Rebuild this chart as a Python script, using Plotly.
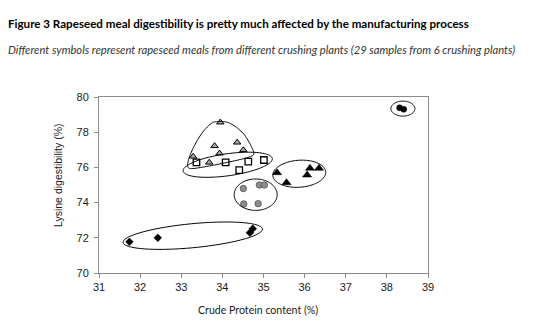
import numpy as np
import plotly.graph_objects as go

# Crude protein (%) vs lysine digestibility (%) per crushing plant
plant_a_cp = [31.74, 32.43, 34.67, 34.74]
plant_a_lys = [71.77, 72.00, 72.29, 72.52]

plant_b_cp = [34.51, 34.90, 35.02, 34.52, 34.87]
plant_b_lys = [74.80, 75.00, 75.00, 73.92, 73.94]

plant_c_cp = [35.33, 35.56, 36.06, 36.13, 36.35]
plant_c_lys = [75.70, 75.13, 75.57, 75.95, 75.95]

plant_d_cp = [33.37, 34.08, 34.41, 34.63, 35.01]
plant_d_lys = [76.29, 76.29, 75.85, 76.33, 76.42]

plant_e_cp = [33.95, 33.81, 34.36, 33.93, 34.51, 33.29, 33.68]
plant_e_lys = [78.56, 77.22, 77.42, 76.80, 76.99, 76.62, 76.28]

plant_f_cp = [38.31, 38.41]
plant_f_lys = [79.39, 79.30]

x_ticks = [31, 32, 33, 34, 35, 36, 37, 38, 39]
y_ticks = [70, 72, 74, 76, 78, 80]

W, H = 542, 331
L, R, T, B = 99, 114, 97, 58
X_RANGE = (31, 39)
Y_RANGE = (70, 80)
px_per_x = (W - L - R) / (X_RANGE[1] - X_RANGE[0])
px_per_y = (H - T - B) / (Y_RANGE[1] - Y_RANGE[0])


def ellipse_path(cx, cy, a_px, b_px, angle_deg, n=120):
    """Closed ellipse outline: centre in data units, radii in screen pixels."""
    t = np.linspace(0, 2 * np.pi, n, endpoint=False)
    th = np.radians(angle_deg)
    u = a_px * np.cos(t)
    v = b_px * np.sin(t)
    dx = u * np.cos(th) - v * np.sin(th)
    dy = u * np.sin(th) + v * np.cos(th)
    xs = cx + dx / px_per_x
    ys = cy + dy / px_per_y
    pts = " L ".join(f"{x:.4f},{y:.4f}" for x, y in zip(xs, ys))
    return f"M {pts} Z"


def blob_path(cx, cy, offsets_px, n_sub=12):
    """Smooth closed outline through pixel offsets (x right, y up) from a data-space centre."""
    P = np.array(offsets_px, dtype=float)
    m = len(P)
    out = []
    for i in range(m):
        p0, p1, p2, p3 = P[(i - 1) % m], P[i], P[(i + 1) % m], P[(i + 2) % m]
        for s in np.linspace(0, 1, n_sub, endpoint=False):
            s2, s3 = s * s, s * s * s
            pt = 0.5 * ((2 * p1) + (-p0 + p2) * s + (2 * p0 - 5 * p1 + 4 * p2 - p3) * s2
                        + (-p0 + 3 * p1 - 3 * p2 + p3) * s3)
            out.append(pt)
    out = np.array(out)
    xs = cx + out[:, 0] / px_per_x
    ys = cy + out[:, 1] / px_per_y
    pts = " L ".join(f"{x:.4f},{y:.4f}" for x, y in zip(xs, ys))
    return f"M {pts} Z"


fig = go.Figure()

fig.add_trace(go.Scatter(x=plant_a_cp, y=plant_a_lys, mode="markers",
                         marker=dict(symbol="diamond", size=6, color="#000000",
                                     line=dict(color="#000000", width=0.5))))
fig.add_trace(go.Scatter(x=plant_b_cp, y=plant_b_lys, mode="markers",
                         marker=dict(symbol="circle", size=6.5, color="#8c8c8c",
                                     line=dict(color="#555555", width=0.8))))
fig.add_trace(go.Scatter(x=plant_c_cp, y=plant_c_lys, mode="markers",
                         marker=dict(symbol="triangle-up", size=8, color="#000000",
                                     line=dict(color="#000000", width=0.5))))
fig.add_trace(go.Scatter(x=plant_d_cp, y=plant_d_lys, mode="markers",
                         marker=dict(symbol="square", size=6.5, color="#ffffff",
                                     line=dict(color="#000000", width=1.3))))
fig.add_trace(go.Scatter(x=plant_e_cp, y=plant_e_lys, mode="markers",
                         marker=dict(symbol="triangle-up", size=6.5, color="#a6a6a6",
                                     line=dict(color="#000000", width=1))))
fig.add_trace(go.Scatter(x=plant_f_cp, y=plant_f_lys, mode="markers",
                         marker=dict(symbol="circle", size=6, color="#000000",
                                     line=dict(color="#000000", width=0.5))))

# Hand-drawn style outlines around each plant's group
shapes = [
    ellipse_path(33.28, 72.12, 70, 12, 5.5),
    ellipse_path(34.81, 74.45, 21.5, 15.7, 0),
    ellipse_path(35.87, 75.64, 26.5, 13.5, 4),
    ellipse_path(38.39, 79.34, 12, 7.5, 0),
    ellipse_path(34.13, 76.15, 45, 11, 8),
    blob_path(33.95, 77.0, [
        (-2.4, 28.2), (9.3, 26.7), (22.6, 16.7), (31.0, 3.3), (33.3, -4.7),
        (26.0, -8.1), (9.3, -12.1), (-10.7, -16.1), (-27.4, -18.7),
        (-32.4, -17.1), (-31.4, -8.7), (-25.7, 4.6), (-17.4, 17.9), (-9.0, 26.3),
    ]),
]
fig.update_layout(shapes=[dict(type="path", path=p, xref="x", yref="y",
                               line=dict(color="#000000", width=1),
                               fillcolor="rgba(0,0,0,0)", layer="above")
                          for p in shapes])

axis_common = dict(showgrid=False, zeroline=False, showline=True, linecolor="#8c8c8c",
                   linewidth=1, mirror=True, ticks="outside", ticklen=4,
                   tickcolor="#8c8c8c", tickwidth=1,
                   tickfont=dict(family="Liberation Sans, Arial, sans-serif", size=11,
                                 color="#1a1a1a"))

fig.update_xaxes(range=list(X_RANGE), tickvals=x_ticks, ticktext=[str(v) for v in x_ticks],
                 **axis_common)
fig.update_yaxes(range=list(Y_RANGE), tickvals=y_ticks, ticktext=[str(v) for v in y_ticks],
                 ticklabelstandoff=3, **axis_common)

fig.update_layout(
    width=W, height=H,
    margin=dict(l=L, r=R, t=T, b=B, pad=0, autoexpand=False),
    paper_bgcolor="#ffffff", plot_bgcolor="#ffffff",
    showlegend=False,
    annotations=[
        dict(text="<b>Figure 3 Rapeseed meal digestibility is pretty much affected by the manufacturing process</b>",
             xref="paper", yref="paper", x=-L / (W - L - R) + 6 / (W - L - R),
             y=1 + (T - 23) / (H - T - B), xanchor="left", yanchor="middle", showarrow=False,
             font=dict(family="Lato, sans-serif", size=11.6, color="#000000")),
        dict(text="<i>Different symbols represent rapeseed meals from different crushing plants (29 samples from 6 crushing plants)</i>",
             xref="paper", yref="paper", x=-L / (W - L - R) + 6 / (W - L - R),
             y=1 + (T - 49) / (H - T - B), xanchor="left", yanchor="middle", showarrow=False,
             font=dict(family="Lato, sans-serif", size=11.2, color="#333333")),
        dict(text="Crude Protein content (%)", xref="paper", yref="paper",
             x=(258 - L) / (W - L - R), y=-(310 - (H - B)) / (H - T - B),
             xanchor="center", yanchor="middle", showarrow=False,
             font=dict(family="Lato, sans-serif", size=10.6, color="#1a1a1a")),
        dict(text="Lysine digestibility (%)", xref="paper", yref="paper",
             x=-(L - 58) / (W - L - R), y=(H - B - 176) / (H - T - B), textangle=-90,
             xanchor="center", yanchor="middle", showarrow=False,
             font=dict(family="Liberation Sans, Arial, sans-serif", size=10.5, color="#1a1a1a")),
    ],
)

fig.write_html("out.html")
